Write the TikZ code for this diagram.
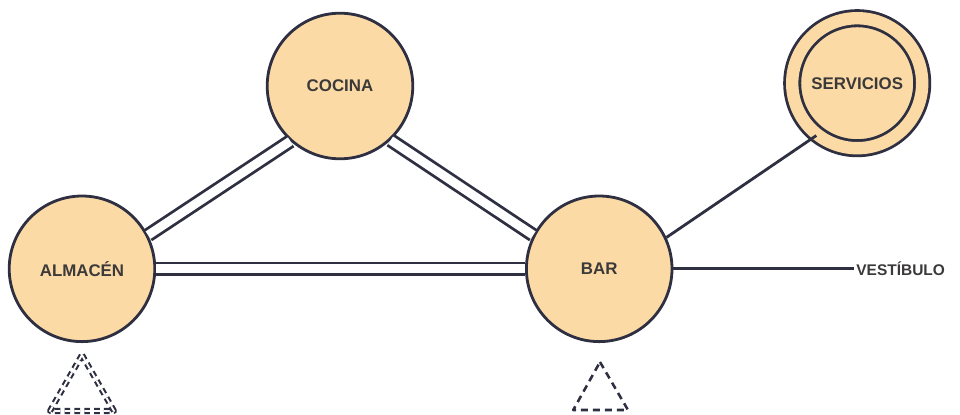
\documentclass[tikz,border=0pt]{standalone}
\usepackage{fontspec}
\setmainfont{Liberation Sans}
\usepackage{tikz}
\usetikzlibrary{positioning,shapes,arrows.meta,calc}
\definecolor{peach}{HTML}{FBDAA5}
\definecolor{navy}{HTML}{2E3042}
\definecolor{ink}{HTML}{3B3939}

\tikzset{
  room/.style={circle, draw=navy, line width=2pt, fill=peach, inner sep=0pt,
    minimum size=3.64cm, text=ink, font=\fontsize{12}{14}\selectfont\bfseries},
  wc/.style={room, double=peach, double distance=0.31cm, minimum size=3.25cm},
  link/.style={draw=navy, line width=2pt, double=white, double distance=6.3pt},
  onelink/.style={draw=navy, line width=2pt},
  entry/.style={text=ink, inner sep=1.5pt, font=\fontsize{11}{13}\selectfont\bfseries}
}

\begin{document}
\begin{tikzpicture}
\useasboundingbox (0,0) rectangle (24,-10.35);

% Rooms
\node[room] (almacen) at (2.05,-6.72) {ALMAC\'EN};
\node[room] (cocina) at (8.5,-2.15) {COCINA};
\node[room] (bar) at (14.98,-6.72) {BAR};
\node[wc] (servicios) at (21.43,-2.08) {SERVICIOS};
\node[entry, anchor=west] (vestibulo) at (21.35,-6.72) {VEST\'IBULO};

% Links between rooms
\draw[link] (almacen.27) -- (cocina.228);
\draw[link] (cocina.313) -- (bar.153);
\draw[link] (almacen) -- (bar);
\draw[onelink] (bar.25) -- (servicios.232);
\draw[onelink] (bar.east) -- (vestibulo.west);

% Access marks
\draw[navy, line width=1.5pt, double=white, double distance=1.3pt, dash pattern=on 4pt off 3pt, line join=round]
  (2.05,-8.875) -- (2.85,-10.275) -- (1.25,-10.275) -- cycle;
\draw[navy, line width=1.8pt, dash pattern=on 5pt off 3.5pt, line join=round]
  (15.0,-9.05) -- (15.7,-10.25) -- (14.33,-10.25) -- cycle;

\end{tikzpicture}
\end{document}
